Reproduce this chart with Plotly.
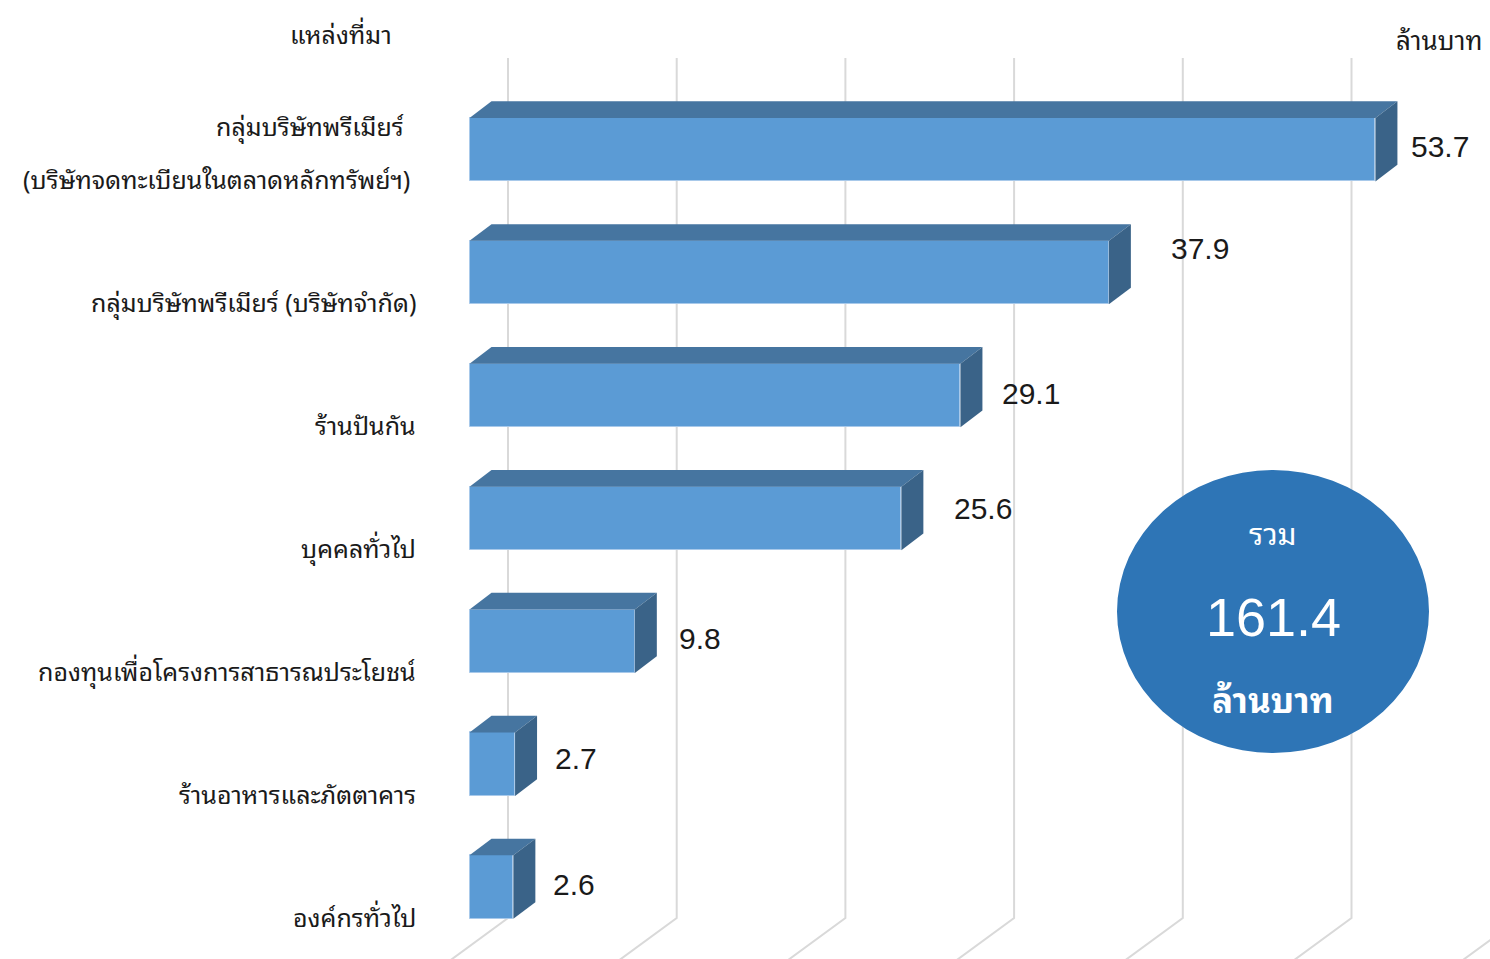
import plotly.graph_objects as go

# ---------------- data ----------------
categories = [
    "กลุ่มบริษัทพรีเมียร์|(บริษัทจดทะเบียนในตลาดหลักทรัพย์ฯ)",
    "กลุ่มบริษัทพรีเมียร์ (บริษัทจำกัด)",
    "ร้านปันกัน",
    "บุคคลทั่วไป",
    "กองทุนเพื่อโครงการสาธารณประโยชน์",
    "ร้านอาหารและภัตตาคาร",
    "องค์กรทั่วไป",
]
values = [53.7, 37.9, 29.1, 25.6, 9.8, 2.7, 2.6]
grid_ticks = [0, 10, 20, 30, 40, 50, 60]
total_value = 161.4
axis_title_left = "แหล่งที่มา"
axis_title_right = "ล้านบาท"
total_label_top = "รวม"
total_label_unit = "ล้านบาท"

# label nudges (pixels) to mimic the hand-placed value labels
label_dx = [12, 38, 18, 29, 20, 16, 16]
label_dy = [3, 24, 2, 10, 3, 6, 3]

# ---------------- styling / geometry ----------------
W, H = 1490, 959
PX_PER_X = 16.87          # pixels per value unit
X0_PX = 469.5             # pixel of value 0 (front plane)
PX_PER_Y = 122.9          # pixels per category step
Y0_PX = 149.7             # pixel of first category centre

x_range = [-X0_PX / PX_PER_X, (W - X0_PX) / PX_PER_X]
y_range = [(H - Y0_PX) / PX_PER_Y, -Y0_PX / PX_PER_Y]

bar_w = 63.5 / PX_PER_Y
dx = 22.0 / PX_PER_X       # bar depth (x)
dy = 16.7 / PX_PER_Y       # bar depth (y)
wall_dx = 38.5 / PX_PER_X  # back wall offset
grid_top = (58 - Y0_PX) / PX_PER_Y
grid_bot = (918 - Y0_PX) / PX_PER_Y
floor_dx = 90 / PX_PER_X
floor_dy = 66 / PX_PER_Y

FRONT = "#5B9BD5"
TOP = "#4675A0"
SIDE = "#3A6388"
GRID = "#D9D9D9"
CIRCLE = "#2E75B6"
THAI_FONT = ("Noto Sans Thai Looped, Loma, Waree, Garuda, Norasi, Kinnari, "
             "Noto Serif Thai, Noto Sans Thai, Tahoma, sans-serif")
NUM_FONT = "Liberation Sans, Arial, sans-serif"

fig = go.Figure()

shapes = []
# gridlines on back wall + floor (drawn below the bars)
for t in grid_ticks:
    xb = t + wall_dx
    shapes.append(dict(
        type="path", xref="x", yref="y", layer="below",
        path=f"M{xb},{grid_top} L{xb},{grid_bot} L{xb - floor_dx},{grid_bot + floor_dy}",
        line=dict(color=GRID, width=2)))

ypos = list(range(len(values)))

# front faces
fig.add_trace(go.Bar(
    x=values, y=ypos, orientation="h", width=bar_w,
    marker=dict(color=FRONT, line=dict(color="#A8C9EA", width=1)),
    hoverinfo="x", showlegend=False))

# top and side faces
for v, yi in zip(values, ypos):
    yt = yi - bar_w / 2
    yb = yi + bar_w / 2
    fig.add_trace(go.Scatter(
        x=[0, v, v + dx, dx, 0], y=[yt, yt, yt - dy, yt - dy, yt],
        fill="toself", fillcolor=TOP, mode="lines", line=dict(width=0, color=TOP),
        hoverinfo="skip", showlegend=False))
    fig.add_trace(go.Scatter(
        x=[v, v + dx, v + dx, v, v], y=[yt, yt - dy, yb - dy, yb, yt],
        fill="toself", fillcolor=SIDE, mode="lines", line=dict(width=0, color=SIDE),
        hoverinfo="skip", showlegend=False))

annotations = []
# value labels
for v, yi, ddx, ddy in zip(values, ypos, label_dx, label_dy):
    annotations.append(dict(
        x=v + dx, y=yi, xref="x", yref="y", text=f"{v:.1f}",
        showarrow=False, xanchor="left", yanchor="middle",
        xshift=ddx, yshift=ddy,
        font=dict(family=NUM_FONT, size=30, color="#1a1a1a")))

# category labels (right aligned, near bar bottom)
for c, yi in zip(categories, ypos):
    lines = c.split("|")
    base_y = yi + bar_w / 2
    for k, ln in enumerate(reversed(lines)):
        xs = -52 if len(lines) == 1 else (-58 if k == 0 else -64)
        annotations.append(dict(
            x=0, y=base_y, xref="x", yref="y", text=ln, showarrow=False,
            xanchor="right", yanchor="middle", xshift=xs,
            yshift=3 + 53 * k,
            font=dict(family=THAI_FONT, size=25, color="#1a1a1a")))

# axis titles
annotations.append(dict(x=341 / W, y=1 - 33 / H, xref="paper", yref="paper",
                        text=axis_title_left, showarrow=False, xanchor="center", yanchor="middle",
                        font=dict(family=THAI_FONT, size=25, color="#1a1a1a")))
annotations.append(dict(x=1485 / W, y=1 - 38 / H, xref="paper", yref="paper",
                        text=axis_title_right, showarrow=False, xanchor="right", yanchor="middle",
                        font=dict(family=THAI_FONT, size=26, color="#1a1a1a")))

# total bubble
cx = 1273
annotations.append(dict(x=cx / W, y=1 - 531 / H, xref="paper", yref="paper",
                        text=total_label_top, showarrow=False, xanchor="center", yanchor="middle",
                        font=dict(family=THAI_FONT, size=30, color="white")))
annotations.append(dict(x=cx / W, y=1 - 617 / H, xref="paper", yref="paper",
                        text=f"{total_value:.1f}", showarrow=False, xanchor="center", yanchor="middle",
                        font=dict(family=NUM_FONT, size=54, color="white")))
annotations.append(dict(x=cx / W, y=1 - 697 / H, xref="paper", yref="paper",
                        text=f"<b>{total_label_unit}</b>", showarrow=False, xanchor="center", yanchor="middle",
                        font=dict(family=THAI_FONT, size=35, color="white")))

shapes.append(dict(type="circle", xref="paper", yref="paper",
                   x0=1117 / W, x1=1429 / W, y0=1 - 753 / H, y1=1 - 470 / H,
                   fillcolor=CIRCLE, line=dict(width=0), layer="above"))

fig.update_layout(
    width=W, height=H,
    margin=dict(l=0, r=0, t=0, b=0),
    paper_bgcolor="white", plot_bgcolor="white",
    xaxis=dict(range=x_range, visible=False, fixedrange=True),
    yaxis=dict(range=y_range, visible=False, fixedrange=True),
    annotations=annotations, shapes=shapes,
    bargap=0,
)

fig.write_html("out.html",
               config={"displayModeBar": False},
               post_script="document.body.style.margin='0px';document.body.style.overflow='hidden';")
